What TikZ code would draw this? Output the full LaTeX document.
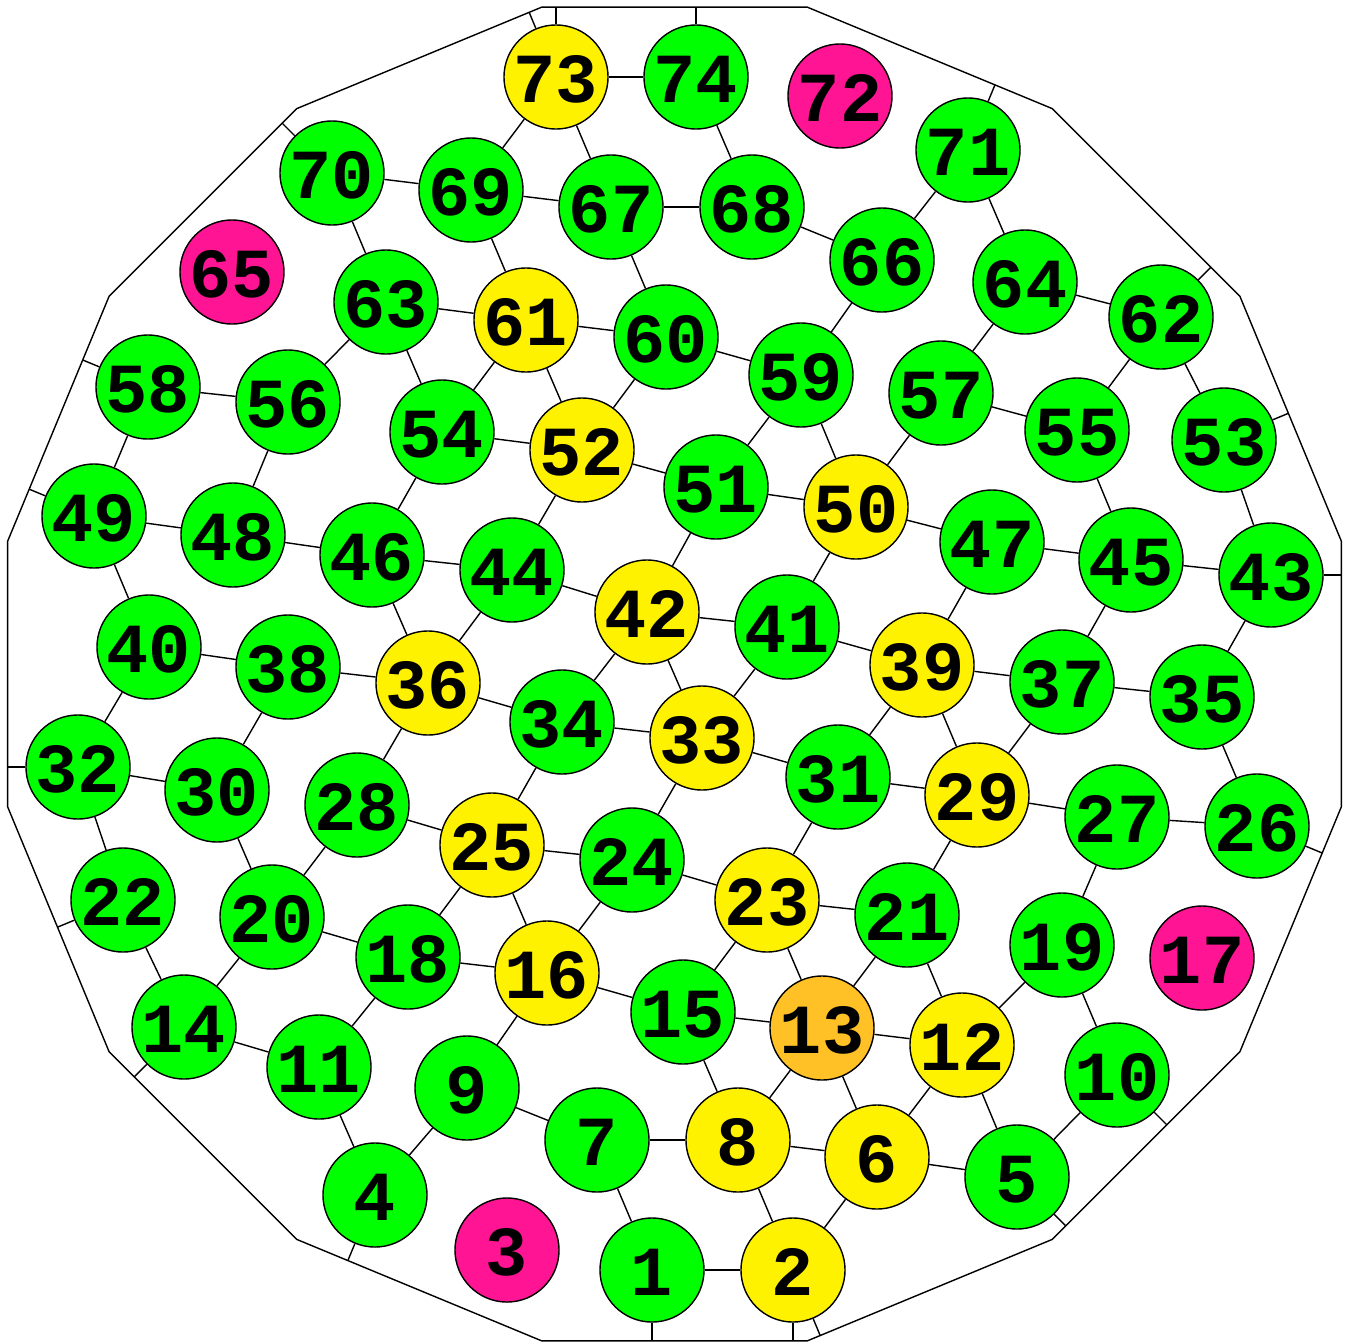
\documentclass[tikz,border=0pt]{standalone}
\usepackage{fontspec}
\setmonofont{Liberation Mono}
\usetikzlibrary{calc}

\begin{document}
\begin{tikzpicture}[
    x=0.01cm, y=-0.01cm,
    vtx/.style={
        circle, draw, line width=0.4pt, minimum size=1.04cm, inner sep=0pt,
        text height=0.5cm, text depth=0pt,
        font=\fontsize{20}{20}\selectfont\ttfamily\bfseries
    },
    gnode/.style={vtx, fill=green},
    ynode/.style={vtx, fill=yellow},
    pnode/.style={vtx, fill=DeepPink},
    onode/.style={vtx, fill=Goldenrod},
    lnk/.style={draw, line width=0.4pt},
]
\definecolor{DeepPink}{RGB}{255,20,147}
\definecolor{Goldenrod}{RGB}{255,193,37}

\useasboundingbox (0,0) rectangle (1348,1342);

% ================================================================
%  OUTER 16-GON
% ================================================================
\foreach \k in {0,...,15}
    \coordinate (c\k) at ($(674.5,674)+(11.25+22.5*\k:680)$);
\draw[lnk] (c0) \foreach \k in {1,...,15} { -- (c\k) } -- cycle;

% ================================================================
%  NODES
% ================================================================
\node[gnode] (n1)  at (652,1270) {1};
\node[ynode] (n2)  at (793,1270) {2};
\node[pnode] (n3)  at (507,1250) {3};
\node[gnode] (n4)  at (375,1195) {4};
\node[gnode] (n5)  at (1017,1177) {5};
\node[ynode] (n6)  at (877,1157) {6};
\node[gnode] (n7)  at (597,1140) {7};
\node[ynode] (n8)  at (738,1140) {8};
\node[gnode] (n9)  at (467,1088) {9};
\node[gnode] (n10) at (1117,1075) {10};
\node[gnode] (n11) at (319,1067) {11};
\node[ynode] (n12) at (962,1045) {12};
\node[onode] (n13) at (822,1028) {13};
\node[gnode] (n14) at (184,1027) {14};
\node[gnode] (n15) at (683,1012) {15};
\node[ynode] (n16) at (547,973) {16};
\node[pnode] (n17) at (1202,958) {17};
\node[gnode] (n18) at (408,957) {18};
\node[gnode] (n19) at (1062,945) {19};
\node[gnode] (n20) at (272,917) {20};
\node[gnode] (n21) at (907,915) {21};
\node[gnode] (n22) at (123,900) {22};
\node[ynode] (n23) at (767,900) {23};
\node[gnode] (n24) at (632,860) {24};
\node[ynode] (n25) at (492,845) {25};
\node[gnode] (n26) at (1257,826) {26};
\node[gnode] (n27) at (1117,817) {27};
\node[gnode] (n28) at (357,805) {28};
\node[ynode] (n29) at (977,795) {29};
\node[gnode] (n30) at (217,790) {30};
\node[gnode] (n31) at (838,777) {31};
\node[gnode] (n32) at (78,767) {32};
\node[ynode] (n33) at (702,738) {33};
\node[gnode] (n34) at (562,722) {34};
\node[gnode] (n35) at (1202,697) {35};
\node[ynode] (n36) at (428,683) {36};
\node[gnode] (n37) at (1062,682) {37};
\node[gnode] (n38) at (288,667) {38};
\node[ynode] (n39) at (922,665) {39};
\node[gnode] (n40) at (149,647) {40};
\node[gnode] (n41) at (787,627) {41};
\node[ynode] (n42) at (647,612) {42};
\node[gnode] (n43) at (1271,575) {43};
\node[gnode] (n44) at (512,570) {44};
\node[gnode] (n45) at (1131,560) {45};
\node[gnode] (n46) at (372,555) {46};
\node[gnode] (n47) at (992,542) {47};
\node[gnode] (n48) at (233,535) {48};
\node[gnode] (n49) at (94,516) {49};
\node[ynode] (n50) at (856,507) {50};
\node[gnode] (n51) at (716,487) {51};
\node[ynode] (n52) at (582,450) {52};
\node[gnode] (n53) at (1224,440) {53};
\node[gnode] (n54) at (442,432) {54};
\node[gnode] (n55) at (1077,430) {55};
\node[gnode] (n56) at (288,402) {56};
\node[gnode] (n57) at (941,393) {57};
\node[gnode] (n58) at (148,387) {58};
\node[gnode] (n59) at (801,375) {59};
\node[gnode] (n60) at (666,337) {60};
\node[ynode] (n61) at (526,320) {61};
\node[gnode] (n62) at (1161,317) {62};
\node[gnode] (n63) at (386,302) {63};
\node[gnode] (n64) at (1025,282) {64};
\node[pnode] (n65) at (232,272) {65};
\node[gnode] (n66) at (882,260) {66};
\node[gnode] (n67) at (611,207) {67};
\node[gnode] (n68) at (752,207) {68};
\node[gnode] (n69) at (471,190) {69};
\node[gnode] (n70) at (332,173) {70};
\node[gnode] (n71) at (968,150) {71};
\node[pnode] (n72) at (840,96) {72};
\node[ynode] (n73) at (556,77) {73};
\node[gnode] (n74) at (696,77) {74};

% ================================================================
%  INNER LINKS
% ================================================================
\foreach \a/\b in {73/74, 73/69, 73/67, 74/68, 70/69, 69/67, 67/68, 69/61,
                   70/63, 67/60, 68/66, 66/71, 71/64, 63/61, 61/60, 60/59,
                   66/59, 64/62, 64/57, 62/55, 62/53, 63/56, 63/54, 61/54,
                   61/52, 60/52, 59/51, 59/50, 57/50, 57/55, 58/56, 58/49,
                   56/48, 54/52, 54/46, 52/51, 52/44, 51/50, 51/42, 50/47,
                   50/41, 55/45, 53/43, 49/48, 49/40, 48/46, 46/44, 44/42,
                   42/41, 41/39, 47/45, 45/43, 47/39, 45/37, 43/35, 46/36,
                   44/36, 42/34, 42/33, 41/33, 40/38, 40/32, 38/36, 38/30,
                   36/34, 36/28, 34/33, 34/25, 33/31, 33/24, 39/37, 39/31,
                   39/29, 37/35, 37/29, 35/26, 31/29, 31/23, 29/27, 29/21,
                   27/26, 27/19, 32/30, 32/22, 30/20, 28/25, 28/20, 25/24,
                   25/18, 25/16, 24/23, 24/16, 23/21, 23/15, 23/13, 21/13,
                   21/12, 19/12, 19/10, 22/14, 20/18, 20/14, 18/16, 18/11,
                   14/11, 16/15, 16/9, 15/13, 15/8, 13/12, 13/8, 13/6,
                   12/6, 12/5, 10/5, 11/4, 9/4, 9/7, 7/8, 7/1,
                   8/6, 8/2, 6/5, 6/2, 2/1}
    \draw[lnk] (n\a) -- (n\b);

% ================================================================
%  LINKS TO THE RIM (perpendicular to the side)
% ================================================================
\foreach \v/\p/\q in {73/10/11, 73/11/12, 74/11/12, 71/12/13, 62/13/14,
                      53/14/15, 43/15/0, 26/0/1, 10/1/2, 5/1/2,
                      2/2/3, 2/3/4, 1/3/4, 4/4/5, 14/5/6,
                      22/6/7, 32/7/8, 49/8/9, 58/8/9, 70/9/10}
    \draw[lnk] (n\v) -- ($(c\p)!(n\v)!(c\q)$);

\end{tikzpicture}
\end{document}
